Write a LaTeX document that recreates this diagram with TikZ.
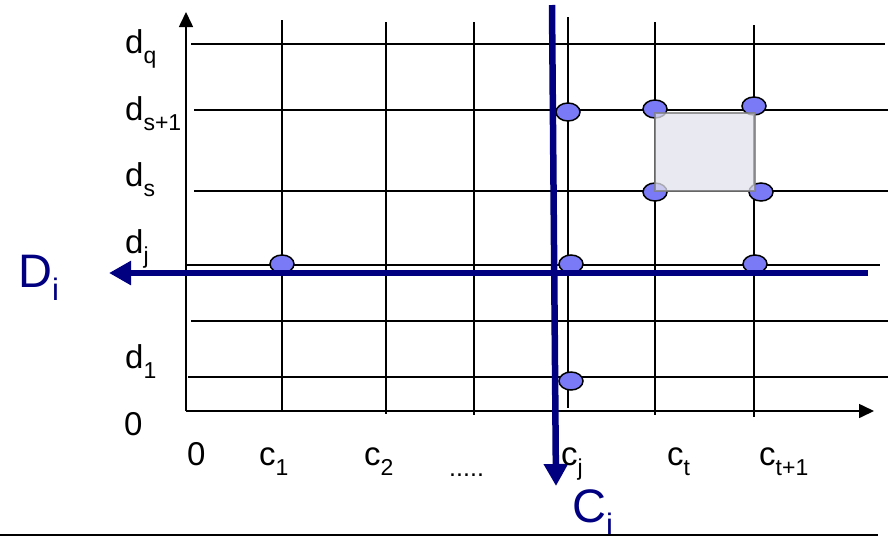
\documentclass[tikz,border=0pt]{standalone}
\usepackage{fontspec}
\setmainfont{Liberation Sans}
\usetikzlibrary{arrows.meta,shapes.geometric}
\definecolor{navyb}{RGB}{0,0,128}
\definecolor{dotblue}{RGB}{122,122,246}
\definecolor{lav}{RGB}{226,226,238}
\newcommand{\lsub}[1]{\raisebox{-10pt}{\fontsize{23}{23}\selectfont #1}}
\newcommand{\bsub}[1]{\raisebox{-13pt}{\fontsize{31}{31}\selectfont #1}}
\tikzset{
  grid/.style={line width=1.6pt, black},
  axis/.style={line width=1.6pt, black, -{Triangle[length=15pt,width=14pt]}},
  bluearrow/.style={line width=6.5pt, navyb, -{Triangle[length=22pt,width=23pt]}},
  dot/.style={ellipse, draw=black, line width=1.5pt, fill=dotblue, minimum width=24pt, minimum height=18pt, inner sep=0pt},
  lbl/.style={anchor=base west, inner sep=0pt, font=\fontsize{33}{33}\selectfont},
  blbl/.style={anchor=base west, inner sep=0pt, text=navyb, font=\fontsize{47}{47}\selectfont},
}
\begin{document}
\begin{tikzpicture}[x=1pt,y=-1pt]
\useasboundingbox (0,0) rectangle (892,539);
% horizontal grid lines
\draw[grid] (191,44) -- (885,44);
\draw[grid] (194,110) -- (888,110);
\draw[grid] (194,191) -- (888,191);
\draw[grid] (186,265) -- (880,265);
\draw[grid] (191,321) -- (888,321);
\draw[grid] (188,377) -- (888,377);
% vertical grid lines
\draw[grid] (282,20) -- (282,412);
\draw[grid] (386,22) -- (386,414);
\draw[grid] (474,22) -- (474,415);
\draw[grid] (568,17) -- (568,408);
\draw[grid] (655,22) -- (655,415);
\draw[grid] (754,25) -- (754,417);
% axes
\coordinate (o) at (186,411);
\coordinate (ytop) at (186,12);
\coordinate (xend) at (874,411);
\draw[axis] (o) -- (ytop);
\draw[axis] (o) -- (xend);
% dots
\node[dot] (p1) at (282,264) {};
\node[dot] (p2) at (568,112) {};
\node[dot] (p3) at (655,109) {};
\node[dot] (p4) at (754,106) {};
\node[dot] (p5) at (655,192) {};
\node[dot] (p6) at (761,192) {};
\node[dot] (p7) at (571,264) {};
\node[dot] (p8) at (755,264) {};
\node[dot] (p9) at (571,381) {};
% shaded cell
\fill[lav, fill opacity=0.75] (655,113) rectangle (755,191);
\draw[gray, line width=1.3pt, opacity=0.8] (655,113) rectangle (755,191);
% blue arrows
\coordinate (cstart) at (552,5);
\coordinate (cend) at (556,486);
\coordinate (dstart) at (868,273);
\coordinate (dend) at (109,273);
\draw[bluearrow] (cstart) -- (cend);
\draw[bluearrow] (dstart) -- (dend);
% y labels
\node[lbl] (ldq) at (125,53) {d\lsub{q}};
\node[lbl] (lds1) at (125,120) {d\lsub{s+1}};
\node[lbl] (lds) at (125,186) {d\lsub{s}};
\node[lbl] (ldj) at (125,253) {d\lsub{j}};
\node[lbl] (ld1) at (125,368) {d\lsub{1}};
\node[lbl] (ly0) at (124,435) {0};
% x labels
\node[lbl] (lx0) at (187,465) {0};
\node[lbl] (lc1) at (259,465) {c\lsub{1}};
\node[lbl] (lc2) at (364,465) {c\lsub{2}};
\node[anchor=base west, inner sep=0pt, font=\fontsize{25}{25}\selectfont] (ldots) at (449,476) {.....};
\node[lbl] (lcj) at (561,465) {c\lsub{j}};
\node[lbl] (lct) at (667,465) {c\lsub{t}};
\node[lbl] (lct1) at (759,465) {c\lsub{t+1}};
% blue labels
\node[blbl] (lDi) at (18,287) {D\bsub{i}};
\node[blbl] (lCi) at (572,522) {C\bsub{i}};
% bottom rule
\coordinate (ra) at (0,535);
\coordinate (rb) at (878,535);
\draw[line width=1.6pt] (ra) -- (rb);
\end{tikzpicture}
\end{document}
